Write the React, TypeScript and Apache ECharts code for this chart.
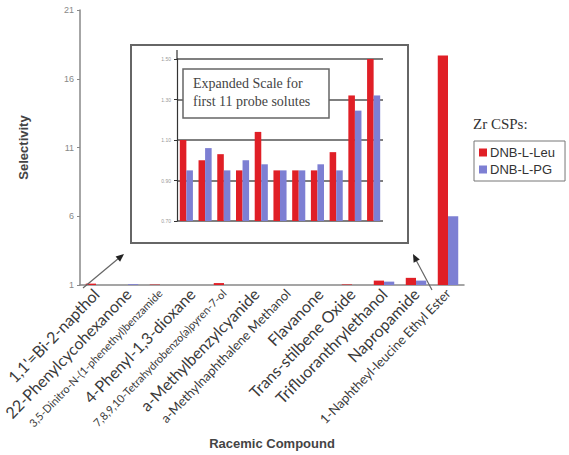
import React, { useEffect, useRef } from "react";
import * as echarts from "echarts";

const categories = [
  "1,1'=Bi-2-napthol",
  "22-Phenylcycohexanone",
  "3,5-Dinitro-N-(1-phenethyl)benzamide",
  "4-Phenyl-1,3-dioxane",
  "7,8,9,10-Tetrahydrobenzo(a)pyren-7-ol",
  "a-Methylbenzylcyanide",
  "a-Methylnaphthalene Methanol",
  "Flavanone",
  "Trans-stilbene Oxide",
  "Trifluoranthrylethanol",
  "Napropamide",
  "1-Naphtheyl-leucine Ethyl Ester",
];
const leuValues = [1.1, 1.0, 1.03, 0.95, 1.14, 0.95, 0.95, 0.95, 1.04, 1.32, 1.52, 17.7];
const pgValues = [0.95, 1.06, 0.95, 1.0, 0.98, 0.95, 0.95, 0.98, 0.95, 1.245, 1.32, 6.0];
const insetCount = 11;
const mainTicks = { min: 1, max: 21, interval: 5 };
const insetTicks = { min: 0.7, max: 1.5, interval: 0.2 };

const RED = "#e01f26";
const BLUE = "#7d7fd3";

function labelKey(s: string) {
  if (s.length > 33) return "s";
  if (s.length > 24) return "m";
  return "b";
}

function arrowHead(tx: number, ty: number, fx: number, fy: number) {
  const dx = tx - fx, dy = ty - fy;
  const L = Math.hypot(dx, dy);
  const ux = dx / L, uy = dy / L;
  const bx = tx - 8 * ux, by = ty - 8 * uy;
  const nx = -uy, ny = ux;
  return [
    [tx, ty],
    [bx + 3.5 * nx, by + 3.5 * ny],
    [bx - 3.5 * nx, by - 3.5 * ny],
  ];
}

export default function App() {
  const ref = useRef<HTMLDivElement>(null);
  useEffect(() => {
    const chart = echarts.init(ref.current!, null, { renderer: "svg" });
    const insetCats = categories.slice(0, insetCount);
    const option: any = {
      animation: false,
      backgroundColor: "#ffffff",
      legend: {
        data: ["DNB-L-Leu", "DNB-L-PG"],
        orient: "vertical",
        left: 474,
        top: 141,
        width: 91,
        borderColor: "#777",
        borderWidth: 1,
        padding: [5, 10, 5, 5],
        itemGap: 4,
        itemWidth: 8,
        itemHeight: 8,
        icon: "rect",
        textStyle: { fontFamily: "Liberation Sans", fontSize: 13, color: "#333", padding: [0, 0, 0, -2] },
      },
      grid: [
        { left: 80, top: 10, right: 105, bottom: 166, containLabel: false },
        { left: 177, top: 59, width: 206, height: 162, containLabel: false },
      ],
      xAxis: [
        {
          type: "category",
          gridIndex: 0,
          data: categories,
          name: "Racemic Compound",
          nameLocation: "middle",
          nameGap: 152,
          nameTextStyle: { fontFamily: "Liberation Sans", fontWeight: "bold", fontSize: 13, color: "#444" },
          axisLine: { lineStyle: { color: "#888", width: 1.5 } },
          axisTick: { length: 3, lineStyle: { color: "#888" } },
          axisLabel: {
            interval: 0,
            rotate: 46,
            margin: 6,
            color: "#333",
            fontFamily: "Lato",
            formatter: (v: string) => `{${labelKey(v)}|${v}}`,
            rich: {
              b: { fontSize: 16, fontFamily: "Lato", color: "#3a3a3a" },
              m: { fontSize: 13, fontFamily: "Lato", color: "#3a3a3a" },
              s: { fontSize: 11, fontFamily: "Lato", color: "#3a3a3a" },
            },
          },
        },
        {
          type: "category",
          gridIndex: 1,
          data: insetCats,
          axisLine: { show: false },
          axisTick: { show: false },
          axisLabel: { show: false },
        },
      ],
      yAxis: [
        {
          type: "value",
          gridIndex: 0,
          min: mainTicks.min,
          max: mainTicks.max,
          interval: mainTicks.interval,
          name: "Selectivity",
          nameLocation: "middle",
          nameRotate: 90,
          nameGap: 50,
          nameTextStyle: { fontFamily: "Liberation Sans", fontWeight: "bold", fontSize: 13, color: "#444" },
          axisLine: { show: true, lineStyle: { color: "#888", width: 1.5 } },
          axisTick: { show: true, length: 3, lineStyle: { color: "#888" } },
          axisLabel: { fontSize: 9, color: "#888", fontFamily: "Liberation Sans", margin: 6 },
          splitLine: { show: false },
        },
        {
          type: "value",
          gridIndex: 1,
          min: insetTicks.min,
          max: insetTicks.max,
          interval: insetTicks.interval,
          axisLine: { show: true, lineStyle: { color: "#333", width: 1.2 } },
          axisTick: { show: true, inside: false, length: 3, lineStyle: { color: "#333" } },
          axisLabel: {
            fontSize: 5,
            color: "#999",
            margin: 6,
            formatter: (v: number) => v.toFixed(2),
          },
          splitLine: { show: true, lineStyle: { color: "#555", width: 1.5 } },
        },
      ],
      series: [
        {
          name: "DNB-L-Leu",
          type: "bar",
          xAxisIndex: 0,
          yAxisIndex: 0,
          data: leuValues,
          itemStyle: { color: RED },
          barGap: "0%",
          barCategoryGap: "36%",
        },
        {
          name: "DNB-L-PG",
          type: "bar",
          xAxisIndex: 0,
          yAxisIndex: 0,
          data: pgValues,
          itemStyle: { color: BLUE },
          barGap: "0%",
          barCategoryGap: "36%",
        },
        {
          name: "DNB-L-Leu",
          type: "bar",
          xAxisIndex: 1,
          yAxisIndex: 1,
          data: leuValues.slice(0, insetCount),
          itemStyle: { color: RED },
          barGap: "0%",
          barCategoryGap: "30%",
          z: 3,
        },
        {
          name: "DNB-L-PG",
          type: "bar",
          xAxisIndex: 1,
          yAxisIndex: 1,
          data: pgValues.slice(0, insetCount),
          itemStyle: { color: BLUE },
          barGap: "0%",
          barCategoryGap: "30%",
          z: 3,
        },
      ],
      graphic: [
        {
          type: "rect",
          shape: { x: 131, y: 45, width: 277, height: 198 },
          z: -1,
          style: { fill: "none", stroke: "#666", lineWidth: 2 },
        },
        {
          type: "line",
          z: 4,
          shape: { x1: 177, y1: 50, x2: 177, y2: 59 },
          style: { stroke: "#333", lineWidth: 1.2 },
        },
        {
          type: "rect",
          shape: { x: 183, y: 69, width: 146, height: 49 },
          z: 50,
          style: { fill: "#ffffff", stroke: "#666", lineWidth: 1.5 },
        },
        {
          type: "text",
          x: 193,
          y: 83,
          z: 51,
          style: {
            text: "Expanded Scale for",
            fontFamily: "Liberation Serif",
            fontSize: 14,
            fill: "#444",
            verticalAlign: "middle",
          },
        },
        {
          type: "text",
          x: 193,
          y: 101,
          z: 51,
          style: {
            text: "first 11 probe solutes",
            fontFamily: "Liberation Serif",
            fontSize: 14,
            fill: "#444",
            verticalAlign: "middle",
          },
        },
        {
          type: "text",
          x: 473,
          y: 124,
          z: 51,
          style: {
            text: "Zr CSPs:",
            fontFamily: "Liberation Serif",
            fontSize: 15,
            fill: "#333",
            verticalAlign: "middle",
          },
        },
        {
          type: "line",
          z: 60,
          shape: { x1: 83, y1: 288, x2: 119, y2: 258 },
          style: { stroke: "#666", lineWidth: 1.2 },
        },
        {
          type: "polygon",
          z: 60,
          shape: { points: arrowHead(124, 254, 83, 288) },
          style: { fill: "#222" },
        },
        {
          type: "line",
          z: 60,
          shape: { x1: 432, y1: 290, x2: 416, y2: 260 },
          style: { stroke: "#666", lineWidth: 1.2 },
        },
        {
          type: "polygon",
          z: 60,
          shape: { points: arrowHead(413, 254, 432, 290) },
          style: { fill: "#222" },
        },
      ],
    };
    chart.setOption(option);
    return () => chart.dispose();
  }, []);
  return (
    <div
      ref={ref}
      style={{ position: "fixed", left: 0, top: 0, width: 569, height: 455 }}
    />
  );
}
